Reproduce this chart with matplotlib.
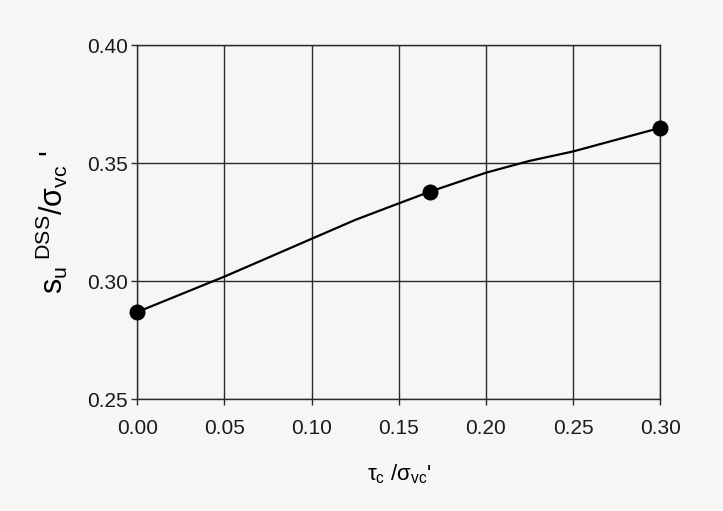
import matplotlib.pyplot as plt

# measured points (markers)
tau_ratio = [0.0, 0.168, 0.30]
su_ratio = [0.287, 0.338, 0.365]

# points
curve_x = [0.0, 0.025, 0.05, 0.075, 0.10, 0.125, 0.15, 0.168, 0.20, 0.225, 0.25, 0.275, 0.30]
curve_y = [0.287, 0.2945, 0.302, 0.310, 0.318, 0.326, 0.333, 0.338, 0.346, 0.351, 0.355, 0.360, 0.365]

x_ticks = [0.0, 0.05, 0.10, 0.15, 0.20, 0.25, 0.30]
y_ticks = [0.25, 0.30, 0.35, 0.40]

plt.rcParams['font.family'] = ['Liberation Sans', 'DejaVu Sans']
plt.rcParams['mathtext.fontset'] = 'custom'
plt.rcParams['mathtext.rm'] = 'Liberation Sans'
plt.rcParams['mathtext.it'] = 'Liberation Sans'
plt.rcParams['mathtext.bf'] = 'Liberation Sans:bold'

fig = plt.figure(figsize=(7.23, 5.11), dpi=100, facecolor='#f6f6f4')
ax = fig.add_axes([0.19, 0.2186, 0.723, 0.6928])
ax.set_facecolor('#f6f6f4')

ax.plot(curve_x, curve_y, color='black', lw=1.6, zorder=3)
ax.plot(tau_ratio, su_ratio, 'o', color='black', ms=10.5, clip_on=False, zorder=4)

ax.set_xlim(0, 0.30)
ax.set_ylim(0.25, 0.40)
ax.set_xticks(x_ticks)
ax.set_yticks(y_ticks)
ax.set_xticklabels([f'{v:.2f}' for v in x_ticks])
ax.set_yticklabels([f'{v:.2f}' for v in y_ticks])
ax.tick_params(direction='out', length=4, width=1, color='#2a2a2a',
               labelsize=15, labelcolor='#1a1a1a')
ax.tick_params(axis='y', pad=3)
ax.tick_params(axis='x', pad=10)
ax.grid(True, color='#2a2a2a', lw=1)
for s in ax.spines.values():
    s.set_color('#2a2a2a')
    s.set_linewidth(1)

ax.set_xlabel(r"$\tau_c\ /\sigma_{vc}$'", fontsize=16, labelpad=18)
ax.set_ylabel(r"$\mathrm{s_u}^{\ DSS}/\sigma_{vc}$ '", fontsize=22, labelpad=12)

fig.savefig('out.png', dpi=100, facecolor=fig.get_facecolor())
